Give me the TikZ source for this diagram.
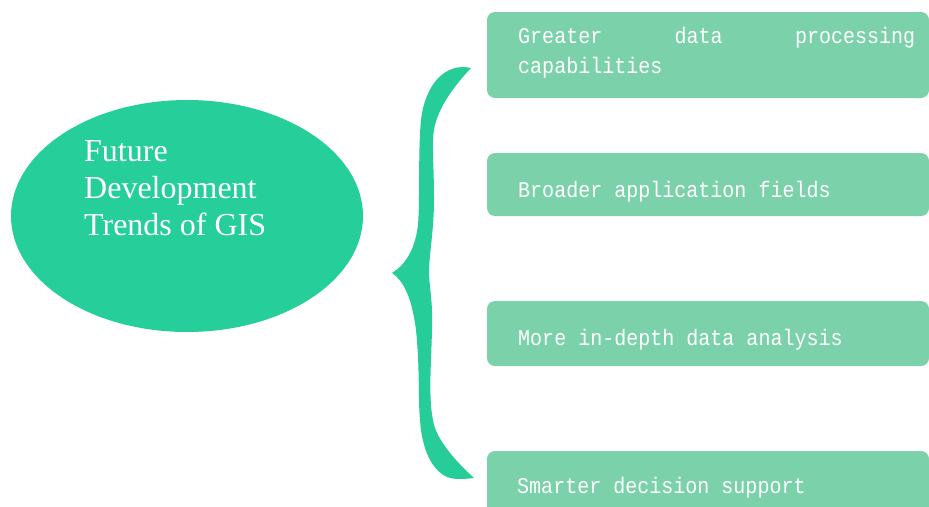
\documentclass[tikz,border=0pt]{standalone}
\usepackage{fontspec}
\usetikzlibrary{shapes.geometric}
\setmainfont{Liberation Serif}
\newfontfamily\monof[FakeStretch=0.89]{Liberation Mono}
\definecolor{ellgreen}{HTML}{26CE99}
\definecolor{bracegreen}{HTML}{27CD98}
\definecolor{boxgreen}{HTML}{7BD1A9}
\tikzset{
  itembox/.style={fill=boxgreen, draw=none, rounded corners=8pt},
  itemtext/.style={text=white, font=\monof\fontsize{22.5}{30}\selectfont, inner sep=0pt, anchor=base west, align=left},
}
\begin{document}
\begin{tikzpicture}[x=1pt,y=-1pt]
\useasboundingbox (0,0) rectangle (929,506);
\clip (0,0) rectangle (929,506);
% central ellipse
\node[ellipse, fill=ellgreen, minimum width=352pt, minimum height=232pt, inner sep=0pt, draw=none] (core) at (187,216) {};
\node[text=white, font=\fontsize{32}{37}\selectfont, align=left, inner sep=0pt, anchor=base west] (title) at (84,235) {Future\\Development\\Trends of GIS};
% brace
\coordinate (btop) at (471,68);
\coordinate (bmid) at (392,273);
\coordinate (bbot) at (474,478);
\fill[bracegreen] (btop) .. controls (445,62) and (425,85) .. (421,120)
  .. controls (418,150) and (420,200) .. (418,225)
  .. controls (415,250) and (405,265) .. (bmid)
  .. controls (405,282) and (412,300) .. (416,330)
  .. controls (420,370) and (418,400) .. (420,420)
  .. controls (422,450) and (432,470) .. (447,477)
  .. controls (455,480) and (465,479) .. (bbot)
  .. controls (460,465) and (440,445) .. (434,425)
  .. controls (428,400) and (431,370) .. (432,330)
  .. controls (433,300) and (429,285) .. (429,273)
  .. controls (429,255) and (434,230) .. (434,200)
  .. controls (434,160) and (431,140) .. (435,125)
  .. controls (440,105) and (455,85) .. (btop) -- cycle;
% boxes
\fill[itembox] (487,12) rectangle (929,98);
\fill[itembox] (487,153) rectangle (929,216);
\fill[itembox] (487,301) rectangle (929,366);
\fill[itembox] (487,451) rectangle (929,530);
\node[itemtext, text width=397pt] (t1) at (518,43) {Greater\hfill data\hfill processing\\capabilities};
\node[itemtext] (t2) at (518,197) {Broader application fields};
\node[itemtext] (t3) at (518,345) {More in-depth data analysis};
\node[itemtext] (t4) at (517,493) {Smarter decision support};
\end{tikzpicture}
\end{document}
